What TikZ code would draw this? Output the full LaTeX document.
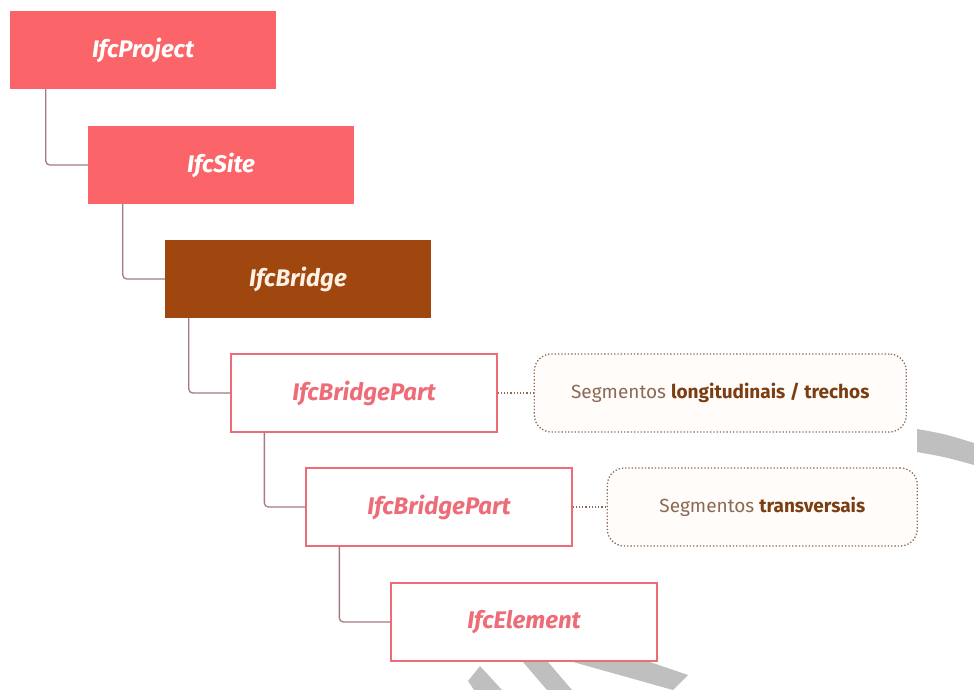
\documentclass[tikz,border=0pt]{standalone}
\usepackage{fontspec}
\setmainfont{Fira Sans}
\usetikzlibrary{positioning}
\definecolor{coral}{HTML}{FB6468}
\definecolor{rust}{HTML}{A0470F}
\definecolor{rose}{HTML}{EE6C78}
\definecolor{mauve}{HTML}{A57A80}
\definecolor{bark}{HTML}{8A6A55}
\definecolor{umber}{HTML}{7A3E12}
\newcommand{\keyword}[1]{\textcolor{umber}{\bfseries #1}}

\tikzset{
	ifc/.style={minimum width=266pt, minimum height=78pt, inner sep=0pt, font=\fontsize{24}{28}\selectfont\bfseries\itshape},
	filled/.style={ifc, fill=coral, text=white},
	dark/.style={ifc, fill=rust, text=white!90!orange},
	outlined/.style={ifc, draw=rose, line width=1.3pt, fill=white, text=rose},
	note/.style={draw=bark, dotted, line width=1.3pt, rounded corners=17pt, fill=orange!2, minimum height=78pt, text=bark, font=\fontsize{19}{23}\selectfont},
	link/.style={draw=mauve, line width=1.3pt, rounded corners=4pt},
	noteline/.style={draw=bark, dotted, line width=1.2pt},
	smudge/.style={fill=black!25}
}

\begin{document}
\begin{tikzpicture}[x=1pt, y=-1pt]
	\useasboundingbox (0,0) rectangle (974,690);

	\node[filled] (project) at (143,50) {IfcProject};
	\node[filled] (site) at (221,165) {IfcSite};
	\node[dark] (bridge) at (298,279) {IfcBridge};
	\node[outlined] (part1) at (364,393) {IfcBridgePart};
	\node[outlined] (part2) at (439,507) {IfcBridgePart};
	\node[outlined] (element) at (524,622) {IfcElement};

	\node[note, minimum width=372pt, right=36pt of part1] (long) {Segmentos \keyword{longitudinais / trechos}};
	\node[note, minimum width=310pt, right=34pt of part2] (trans) {Segmentos \keyword{transversais}};

	\draw[link] ([xshift=36pt]project.south west) |- (site.west);
	\draw[link] ([xshift=35pt]site.south west) |- (bridge.west);
	\draw[link] ([xshift=24pt]bridge.south west) |- (part1.west);
	\draw[link] ([xshift=34pt]part1.south west) |- (part2.west);
	\draw[link] ([xshift=34pt]part2.south west) |- (element.west);

	\draw[noteline] (part1.east) -- (long.west);
	\draw[noteline] (part2.east) -- (trans.west);

	% grey marks over the picture
	\fill[smudge] (917,429) .. controls (945,434) .. (974,443) -- (974,465) .. controls (945,457) .. (917,452) -- cycle;
	\fill[smudge] (480,666) -- (502,690) -- (474,690) -- (468,681) -- cycle;
	\fill[smudge] (523,662) -- (548,662) -- (572,690) -- (547,690) -- cycle;
	\fill[smudge] (573,662) -- (650,662) -- (688,675) -- (673,690) -- cycle;
\end{tikzpicture}
\end{document}
